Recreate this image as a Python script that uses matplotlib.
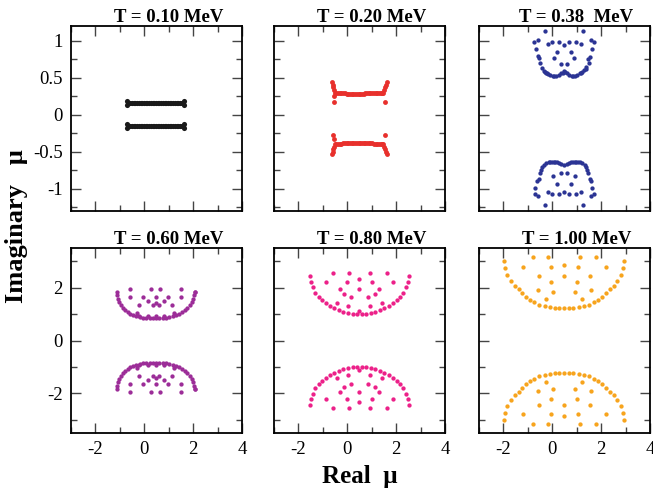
import matplotlib
matplotlib.use("Agg")
import matplotlib.pyplot as plt
from matplotlib.ticker import MultipleLocator, FuncFormatter

plt.rcParams["font.family"] = ["Liberation Serif", "DejaVu Serif"]
plt.rcParams["axes.unicode_minus"] = False

# Zeros in the complex chemical-potential plane, one panel per temperature.
# Top row: upper and lower branches listed separately.
# T = 0.10 MeV
p1_up_x = [-0.71, -0.71, -0.68, -0.64, -0.57, -0.50, -0.43, -0.36, -0.29, -0.22,
           -0.15, -0.08, -0.01, 0.06, 0.13, 0.20, 0.27, 0.34, 0.41, 0.48, 0.55,
           0.62, 0.69, 0.76, 0.83, 0.90, 0.97, 1.04, 1.11, 1.18, 1.25, 1.32,
           1.39, 1.46, 1.53, 1.59, 1.62, 1.62]
p1_up_y = [0.19, 0.13, 0.16, 0.16, 0.16, 0.16, 0.16, 0.16, 0.16, 0.16,
           0.16, 0.16, 0.16, 0.16, 0.16, 0.16, 0.16, 0.16, 0.16, 0.16, 0.16,
           0.16, 0.16, 0.16, 0.16, 0.16, 0.16, 0.16, 0.16, 0.16, 0.16, 0.16,
           0.16, 0.16, 0.16, 0.16, 0.19, 0.13]
p1_lo_x = p1_up_x
p1_lo_y = [-0.125, -0.185, -0.155, -0.155, -0.155, -0.155, -0.155, -0.155, -0.155, -0.155,
           -0.155, -0.155, -0.155, -0.155, -0.155, -0.155, -0.155, -0.155, -0.155, -0.155, -0.155,
           -0.155, -0.155, -0.155, -0.155, -0.155, -0.155, -0.155, -0.155, -0.155, -0.155, -0.155,
           -0.155, -0.155, -0.155, -0.155, -0.125, -0.185]

# T = 0.20 MeV
p2_up_x = [-0.63, -0.60, -0.57, -0.54, -0.50, -0.54, -0.56,
           -0.45, -0.38, -0.31, -0.24, -0.17, -0.10, -0.03, 0.04, 0.11, 0.18,
           0.25, 0.32, 0.39, 0.46, 0.53, 0.60, 0.67, 0.74, 0.81, 0.88, 0.95,
           1.02, 1.09, 1.16, 1.23, 1.30, 1.37, 1.43,
           1.48, 1.52, 1.56, 1.60, 1.64, 1.56]
p2_up_y = [0.44, 0.40, 0.37, 0.34, 0.30, 0.25, 0.17,
           0.298, 0.296, 0.294, 0.292, 0.290, 0.288, 0.286, 0.285, 0.284, 0.283,
           0.283, 0.283, 0.283, 0.284, 0.285, 0.286, 0.287, 0.288, 0.289, 0.290, 0.291,
           0.292, 0.293, 0.294, 0.295, 0.296, 0.297, 0.298,
           0.30, 0.34, 0.37, 0.40, 0.44, 0.17]
p2_lo_x = [-0.57, -0.54, -0.50, -0.54, -0.57, -0.60, -0.63,
           -0.45, -0.38, -0.31, -0.24, -0.17, -0.10, -0.03, 0.04, 0.11, 0.18,
           0.25, 0.32, 0.39, 0.46, 0.53, 0.60, 0.67, 0.74, 0.81, 0.88, 0.95,
           1.02, 1.09, 1.16, 1.23, 1.30, 1.37, 1.43,
           1.48, 1.52, 1.56, 1.60, 1.64, 1.56]
p2_lo_y = [-0.27, -0.33, -0.39, -0.43, -0.46, -0.50, -0.53,
           -0.394, -0.392, -0.390, -0.388, -0.386, -0.384, -0.382, -0.381, -0.380, -0.379,
           -0.378, -0.378, -0.378, -0.379, -0.380, -0.381, -0.382, -0.383, -0.384, -0.385, -0.386,
           -0.387, -0.388, -0.389, -0.390, -0.391, -0.392, -0.393,
           -0.39, -0.43, -0.46, -0.50, -0.53, -0.27]

# T = 0.38 MeV
p3_up_x = [-0.28, 1.27, -0.74, -0.60, 1.58, 1.71, -0.17, -0.01, 0.27, 0.48, 0.70,
           0.99, 1.16, -0.65, 1.64, 0.21, 0.76, -0.59, -0.53, 0.07, 0.90, 1.53,
           1.47, 0.37, 0.62, -0.50, 1.50, -0.42, 1.40, -0.35, -0.26, -0.17, -0.08,
           0.03, 0.16, 0.27, 0.37, 0.48, 0.59, 0.70, 0.81, 0.92, 1.03, 1.13, 1.23,
           1.31, -0.31, -0.21, 0.09, 0.43, 0.53, 0.86, 1.18, 1.36]
p3_up_y = [1.13, 1.13, 0.99, 1.01, 1.01, 0.98, 0.955, 0.98, 0.98, 0.95, 0.98,
           0.98, 0.955, 0.89, 0.89, 0.85, 0.85, 0.79, 0.77, 0.77, 0.77, 0.78,
           0.76, 0.69, 0.69, 0.70, 0.70, 0.63, 0.64, 0.59, 0.57, 0.55, 0.54,
           0.53, 0.53, 0.54, 0.56, 0.59, 0.56, 0.54, 0.53, 0.53, 0.54, 0.56, 0.58,
           0.61, 0.58, 0.56, 0.53, 0.57, 0.575, 0.53, 0.57, 0.62]
p3_lo_x = [-0.42, -0.35, -0.26, -0.15, -0.01, 0.13, 0.27, 0.37, 0.48, 0.59, 0.70,
           0.84, 0.98, 1.12, 1.23, 1.32, 1.39, -0.49, -0.56, -0.61, -0.70, -0.72,
           -0.59, 1.46, 1.53, 1.58, 1.64, 1.71, 1.60, 0.37, 0.62, 0.02, 0.92,
           0.21, 0.76, -0.17, -0.01, 0.27, 0.48, 0.70, 0.99, 1.16, -0.28, 1.27,
           -0.45, 1.42, -0.08, 0.06, 0.20, 0.77, 0.91, 1.05]
p3_lo_y = [-0.70, -0.68, -0.65, -0.64, -0.635, -0.635, -0.645, -0.66, -0.685, -0.66, -0.645,
           -0.635, -0.635, -0.64, -0.65, -0.68, -0.70, -0.79, -0.87, -0.90, -0.99, -1.07,
           -1.10, -0.79, -0.87, -0.90, -0.99, -1.07, -1.10, -0.79, -0.79, -0.83, -0.83,
           -0.94, -0.94, -1.045, -1.07, -1.07, -1.045, -1.07, -1.07, -1.045, -1.22, -1.22,
           -0.74, -0.74, -0.64, -0.635, -0.64, -0.64, -0.635, -0.64]

# Bottom row: upper branch only, the lower one is its complex conjugate.
# T = 0.60 MeV
p4_x = [-1.12, -1.106, -1.08, -1.04, -0.97, -0.89, -0.79, -0.68, -0.57, -0.45,
        -0.32, -0.19, -0.05, 0.09, 0.22, 0.36, 0.49, 0.61, 0.75, 0.88, 1.02,
        1.16, 1.29, 1.42, 1.54, 1.65, 1.76, 1.86, 1.94, 2.01, 2.05, 2.08, 2.09,
        -0.57, 0.28, 0.66, 1.51, -0.57, -0.05, 0.46, 0.98, 1.51, 0.14, 0.80,
        -0.21, 0.36, 0.61, 1.12, 0.49, -0.30, 1.21, -0.20, 0.14, 0.46, 0.80]
p4_y = [1.83, 1.71, 1.58, 1.45, 1.34, 1.24, 1.15, 1.07, 1.01, 0.96,
        0.92, 0.895, 0.87, 0.86, 0.86, 0.86, 0.86, 0.86, 0.86, 0.87, 0.895,
        0.92, 0.96, 1.01, 1.07, 1.15, 1.24, 1.34, 1.45, 1.58, 1.71, 1.83, 1.83,
        1.93, 1.93, 1.93, 1.93, 1.66, 1.66, 1.66, 1.66, 1.66, 1.49, 1.49,
        1.33, 1.33, 1.33, 1.33, 1.43, 1.04, 1.04, 0.92, 0.92, 0.92, 0.92]

# T = 0.80 MeV
p5_x = [-1.526, -1.485, -1.417, -1.308, -1.172, -1.035, -0.872, -0.708, -0.530, -0.353,
        -0.162, 0.029, 0.220, 0.397, 0.588, 0.766, 0.957, 1.148, 1.339, 1.516,
        1.693, 1.857, 2.021, 2.157, 2.294, 2.403, 2.471, 2.512,
        -0.60, 0.07, 0.93, 1.61, -0.87, -0.03, 0.49, 1.03, 1.86, -0.30, 0.49,
        1.28, -0.12, 1.13, 0.15, 0.83, -0.41, 1.41, 0.04, 0.94, 0.49]
p5_y = [2.426, 2.223, 2.007, 1.816, 1.651, 1.524, 1.410, 1.308, 1.220, 1.143,
        1.080, 1.029, 1.004, 0.991, 0.991, 1.004, 1.029, 1.080, 1.143, 1.220,
        1.308, 1.410, 1.524, 1.651, 1.816, 2.007, 2.223, 2.426,
        2.55, 2.55, 2.55, 2.55, 2.22, 2.22, 2.32, 2.22, 2.22, 1.95, 1.93,
        1.95, 1.75, 1.75, 1.63, 1.63, 1.43, 1.43, 1.31, 1.31, 1.12]

# T = 1.00 MeV
p6_x = [-1.971, -1.916, -1.834, -1.697, -1.546, -1.381, -1.244, -1.080, -0.915, -0.737,
        -0.531, -0.312, -0.106, 0.100, 0.292, 0.484, 0.676, 0.868, 1.074, 1.280,
        1.499, 1.705, 1.883, 2.048, 2.212, 2.350, 2.514, 2.665, 2.802, 2.885, 2.940,
        -0.805, -0.161, 1.129, 1.774, -1.203, -0.065, 0.484, 1.046, 2.185, -0.558,
        0.484, 1.540, -0.065, 1.019, -0.600, 0.045, 0.937, 1.581, -0.243, 1.211]
p6_y = [3.023, 2.743, 2.477, 2.248, 2.070, 1.931, 1.791, 1.664, 1.550, 1.448,
        1.359, 1.296, 1.258, 1.245, 1.245, 1.245, 1.245, 1.245, 1.258, 1.296,
        1.359, 1.448, 1.550, 1.664, 1.791, 1.931, 2.070, 2.248, 2.477, 2.743, 3.023,
        3.175, 3.175, 3.175, 3.175, 2.794, 2.769, 2.870, 2.769, 2.794, 2.451,
        2.426, 2.451, 2.197, 2.197, 1.905, 1.842, 1.842, 1.905, 1.588, 1.588]

# title, colour, row, col, upper x/y, lower x/y, marker size
panels = [
    ("T = 0.10 MeV", "#1a1a1a", 0, 0, p1_up_x, p1_up_y, p1_lo_x, p1_lo_y, 3.7),
    ("T = 0.20 MeV", "#e8302c", 0, 1, p2_up_x, p2_up_y, p2_lo_x, p2_lo_y, 3.5),
    ("T = 0.38  MeV", "#2b3494", 0, 2, p3_up_x, p3_up_y, p3_lo_x, p3_lo_y, 3.1),
    ("T = 0.60 MeV", "#9c2d98", 1, 0, p4_x, p4_y, p4_x, [-v for v in p4_y], 3.1),
    ("T = 0.80 MeV", "#ec2189", 1, 1, p5_x, p5_y, p5_x, [-v for v in p5_y], 3.1),
    ("T = 1.00 MeV", "#f7a41d", 1, 2, p6_x, p6_y, p6_x, [-v for v in p6_y], 3.1),
]

W, H = 653, 493
col_left = [71, 274, 479]
row_top = [26, 248]
ax_w, ax_h = 171, 185

fig = plt.figure(figsize=(W / 100, H / 100), dpi=100)
fmt = FuncFormatter(lambda v, pos: f"{v + 0:g}")

for title, color, r, c, ux, uy, lx, ly, ms in panels:
    ax = fig.add_axes([col_left[c] / W, 1 - (row_top[r] + ax_h) / H, ax_w / W, ax_h / H])
    ax.plot(ux, uy, "o", color=color, markersize=ms, markeredgewidth=0)
    ax.plot(lx, ly, "o", color=color, markersize=ms, markeredgewidth=0)
    ax.set_xlim(-3, 4)
    ax.xaxis.set_major_locator(MultipleLocator(2))
    ax.xaxis.set_minor_locator(MultipleLocator(1))
    if r == 0:
        ax.set_ylim(-1.3, 1.2)
        ax.yaxis.set_major_locator(MultipleLocator(0.5))
        ax.yaxis.set_minor_locator(MultipleLocator(0.25))
    else:
        ax.set_ylim(-3.5, 3.5)
        ax.yaxis.set_major_locator(MultipleLocator(2))
        ax.yaxis.set_minor_locator(MultipleLocator(1))
    ax.xaxis.set_major_formatter(fmt)
    ax.yaxis.set_major_formatter(fmt)
    ax.tick_params(which="both", direction="in", top=True, right=True,
                   color="#444444", width=1.0, labelsize=13.5, pad=6)
    ax.tick_params(which="major", length=7)
    ax.tick_params(which="minor", length=4)
    if r == 0:
        ax.tick_params(labelbottom=False)
    if c != 0:
        ax.tick_params(labelleft=False)
    for s in ax.spines.values():
        s.set_linewidth(1.3)
    # titles sit a little right of the panel centre
    ax.set_title(title, fontsize=13.5, fontweight="bold", pad=3, x=0.57)

fig.text(17 / W, 1 - 226 / H, "Imaginary   μ", rotation=90, ha="center", va="center",
         fontsize=19, fontweight="bold")
fig.text(360 / W, 1 - 476 / H, "Real  μ", ha="center", va="center",
         fontsize=18, fontweight="bold")

fig.savefig("out.png", dpi=100)
